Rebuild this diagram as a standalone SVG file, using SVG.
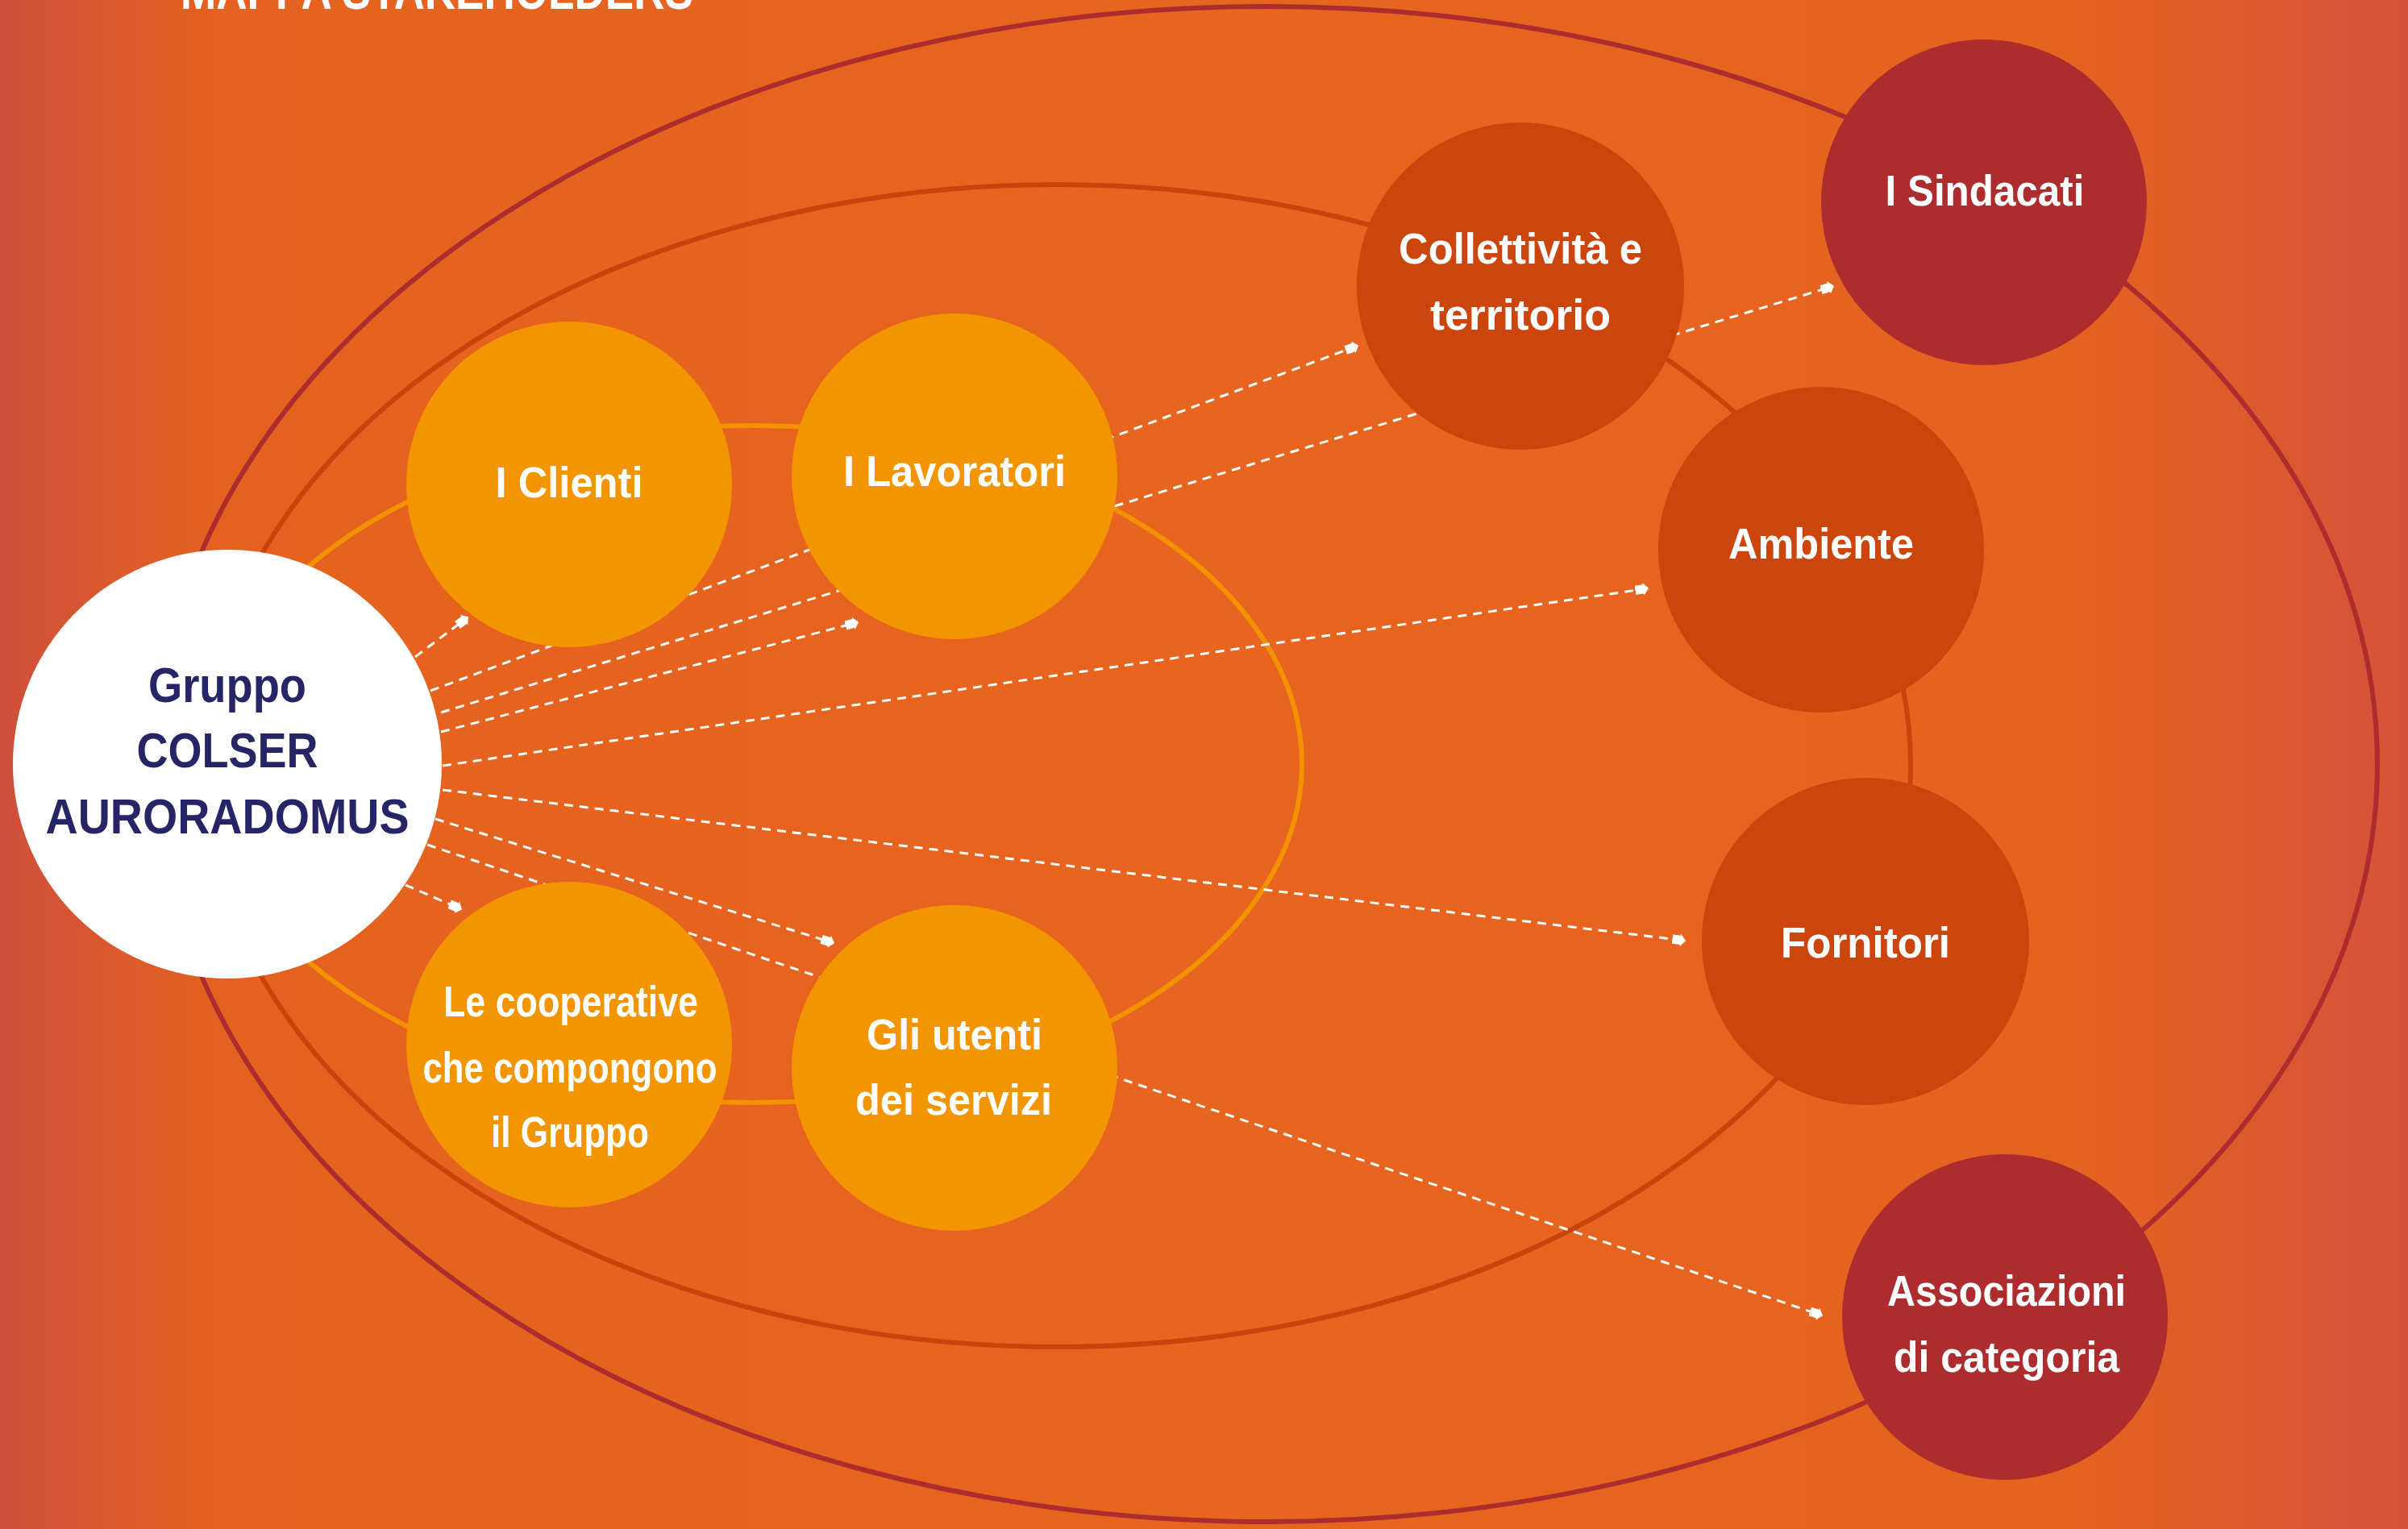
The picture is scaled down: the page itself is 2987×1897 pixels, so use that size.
<svg xmlns="http://www.w3.org/2000/svg" width="2987" height="1897" viewBox="0 0 2987 1897">
<defs>
<linearGradient id="bg" x1="0" y1="0" x2="1" y2="0">
<stop offset="0" stop-color="#CE503C"/>
<stop offset="0.09" stop-color="#E5611F"/>
<stop offset="0.5" stop-color="#E8651F"/>
<stop offset="0.86" stop-color="#E6621F"/>
<stop offset="1" stop-color="#D4523A"/>
</linearGradient>
<marker id="arr" markerUnits="userSpaceOnUse" markerWidth="18" markerHeight="18" refX="14" refY="7" orient="auto" viewBox="0 0 16 14">
<path d="M0,2 L9,2 L9,0 L15,7 L9,14 L9,12 L0,12 Z" fill="#FFFFFF"/>
</marker>
<style>
.ring{fill:none;stroke-width:6}
.con{fill:none;stroke:#FFFFFF;stroke-width:3;stroke-dasharray:11 8;marker-end:url(#arr)}
.lbl{font-family:"Liberation Sans",Arial,sans-serif;font-weight:bold;font-size:53px;fill:#FFFFFF;text-anchor:middle}
.main{font-family:"Liberation Sans",Arial,sans-serif;font-weight:bold;font-size:61px;fill:#262567;text-anchor:middle}
.orange{fill:#F39500}
.rust{fill:#CB450C}
.wine{fill:#AD2D2E}
</style>
</defs>
<rect x="0" y="0" width="2987" height="1897" fill="url(#bg)"/>
<text x="542" y="11" font-family="'Liberation Sans',Arial,sans-serif" font-weight="bold" font-size="64" fill="#FFFFFF" text-anchor="middle" textLength="636" lengthAdjust="spacingAndGlyphs">MAPPA STAKEHOLDERS</text>
<g id="rings">
<ellipse class="ring" cx="1572" cy="948" rx="1377" ry="940" stroke="#AD2D2E"/>
<ellipse class="ring" cx="1311" cy="950" rx="1059" ry="721" stroke="#C8440C"/>
<ellipse class="ring" cx="935" cy="948" rx="680" ry="420" stroke="#F39200"/>
</g>
<g id="connectors">
<line class="con" x1="515" y1="815" x2="580" y2="766"/>
<line class="con" x1="534" y1="857" x2="1684" y2="429"/>
<line class="con" x1="547" y1="884" x2="2274" y2="355"/>
<line class="con" x1="547" y1="908" x2="1064" y2="772"/>
<line class="con" x1="549" y1="950" x2="2044" y2="730"/>
<line class="con" x1="549" y1="980" x2="2090" y2="1167"/>
<line class="con" x1="540" y1="1016" x2="1034" y2="1170"/>
<line class="con" x1="530" y1="1048" x2="2260" y2="1632"/>
<line class="con" x1="503" y1="1098" x2="572" y2="1128"/>
</g>
<g id="gruppo">
<circle cx="282" cy="948" r="266" fill="#FFFFFF"/>
<text class="main" x="282" y="871" textLength="196" lengthAdjust="spacingAndGlyphs">Gruppo</text>
<text class="main" x="282" y="952" textLength="225" lengthAdjust="spacingAndGlyphs">COLSER</text>
<text class="main" x="282" y="1034" textLength="451" lengthAdjust="spacingAndGlyphs">AURORADOMUS</text>
</g>
<g id="clienti">
<circle class="orange" cx="706" cy="601" r="202"/>
<text class="lbl" x="706" y="617" textLength="183" lengthAdjust="spacingAndGlyphs">I Clienti</text>
</g>
<g id="lavoratori">
<circle class="orange" cx="1184" cy="591" r="202"/>
<text class="lbl" x="1184" y="603" textLength="276" lengthAdjust="spacingAndGlyphs">I Lavoratori</text>
</g>
<g id="cooperative">
<circle class="orange" cx="706" cy="1296" r="202"/>
<text class="lbl" x="708" y="1261" textLength="316" lengthAdjust="spacingAndGlyphs">Le cooperative</text>
<text class="lbl" x="707" y="1343" textLength="365" lengthAdjust="spacingAndGlyphs">che compongono</text>
<text class="lbl" x="707" y="1423" textLength="196" lengthAdjust="spacingAndGlyphs">il Gruppo</text>
</g>
<g id="utenti">
<circle class="orange" cx="1184" cy="1325" r="202"/>
<text class="lbl" x="1184" y="1302" textLength="218" lengthAdjust="spacingAndGlyphs">Gli utenti</text>
<text class="lbl" x="1183" y="1383" textLength="244" lengthAdjust="spacingAndGlyphs">dei servizi</text>
</g>
<g id="collettivita">
<circle class="rust" cx="1886" cy="355" r="203"/>
<text class="lbl" x="1886" y="327" textLength="302" lengthAdjust="spacingAndGlyphs">Collettività e</text>
<text class="lbl" x="1886" y="409" textLength="224" lengthAdjust="spacingAndGlyphs">territorio</text>
</g>
<g id="sindacati">
<circle class="wine" cx="2461" cy="251" r="202"/>
<text class="lbl" x="2462" y="255" textLength="247" lengthAdjust="spacingAndGlyphs">I Sindacati</text>
</g>
<g id="ambiente">
<circle class="rust" cx="2259" cy="682" r="202"/>
<text class="lbl" x="2259" y="693" textLength="230" lengthAdjust="spacingAndGlyphs">Ambiente</text>
</g>
<g id="fornitori">
<circle class="rust" cx="2314" cy="1168" r="203"/>
<text class="lbl" x="2314" y="1188" textLength="210" lengthAdjust="spacingAndGlyphs">Fornitori</text>
</g>
<g id="associazioni">
<circle class="wine" cx="2487" cy="1634" r="202"/>
<text class="lbl" x="2489" y="1620" textLength="296" lengthAdjust="spacingAndGlyphs">Associazioni</text>
<text class="lbl" x="2489" y="1702" textLength="280" lengthAdjust="spacingAndGlyphs">di categoria</text>
</g>
</svg>
